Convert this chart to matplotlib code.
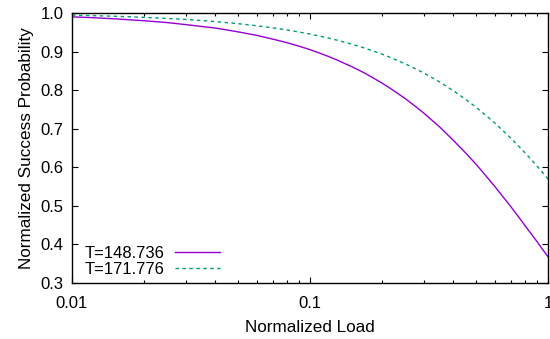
import matplotlib
matplotlib.use("Agg")
import matplotlib.pyplot as plt
from matplotlib.ticker import FixedLocator, NullFormatter, LogLocator

load = [0.01, 0.012, 0.015, 0.02, 0.025, 0.03, 0.04, 0.05, 0.06, 0.07, 0.08, 0.09,
        0.1, 0.11, 0.12, 0.13, 0.15, 0.17, 0.2, 0.22, 0.25, 0.28, 0.3, 0.35,
        0.4, 0.45, 0.5, 0.55, 0.6, 0.65, 0.7, 0.75, 0.8, 0.85, 0.9, 0.95, 1.0]
p_148 = [0.990, 0.9881, 0.985, 0.980, 0.9753, 0.970, 0.961, 0.951, 0.9418, 0.932, 0.9231, 0.9139,
         0.905, 0.8958, 0.8869, 0.878, 0.8607, 0.844, 0.819, 0.8025, 0.779, 0.7558, 0.741, 0.705,
         0.670, 0.6376, 0.607, 0.5769, 0.549, 0.5220, 0.497, 0.4724, 0.449, 0.4274, 0.407, 0.3867, 0.368]
p_171 = [0.9944, 0.9933, 0.9916, 0.9888, 0.9860, 0.9833, 0.9778, 0.9723, 0.9668, 0.9614, 0.9560, 0.9507,
         0.9453, 0.9400, 0.9348, 0.9295, 0.9191, 0.9089, 0.8937, 0.8836, 0.8688, 0.8543, 0.8448, 0.8214,
         0.7986, 0.7764, 0.7550, 0.7340, 0.7138, 0.6938, 0.6748, 0.6559, 0.6378, 0.6200, 0.6029, 0.5861, 0.5699]
labels = ["T=148.736", "T=171.776"]
xticks = [0.01, 0.1, 1]
xticklabels = ["0.01", "0.1", "1"]
yticks = [0.3, 0.4, 0.5, 0.6, 0.7, 0.8, 0.9, 1.0]

plt.rcParams['font.family'] = ['Liberation Sans', 'DejaVu Sans']

fig = plt.figure(figsize=(5.5, 3.39), dpi=100)
ax = fig.add_axes([72/550, (339-283)/339, (548-72)/550, (283-13)/339])

l1, = ax.plot(load, p_148, color='#9400d3', lw=1.0, label=labels[0])
l2, = ax.plot(load, p_171, color='#009e73', lw=1.0, ls=(0, (2.5, 2.5)), label=labels[1])

ax.set_xscale('log')
ax.set_xlim(0.01, 1)
ax.set_ylim(0.3, 1.0)
ax.xaxis.set_major_locator(FixedLocator(xticks))
ax.set_xticklabels(xticklabels)
ax.xaxis.set_minor_locator(LogLocator(base=10, subs=range(2, 10)))
ax.xaxis.set_minor_formatter(NullFormatter())
ax.set_yticks(yticks)
ax.set_yticklabels([f"{v:.1f}" for v in yticks])

ax.tick_params(axis='both', which='major', direction='in', length=4.5, width=0.8,
               top=True, right=True, labelsize=12, colors='black')
ax.tick_params(axis='x', which='major', pad=9)
ax.tick_params(axis='y', which='major', pad=6)
ax.tick_params(axis='both', which='minor', direction='in', length=2.2, width=0.8,
               top=True, right=True)
for s in ax.spines.values():
    s.set_linewidth(1.0)

ax.set_xlabel("Normalized Load", fontsize=12.3, labelpad=7)
ax.set_ylabel("Normalized Success Probability", fontsize=12.3, labelpad=5)

leg = ax.legend(loc='lower left', frameon=False, fontsize=12, markerfirst=False,
                handlelength=2.7, handletextpad=0.6, labelspacing=0.05,
                borderpad=0.0, borderaxespad=0.0,
                bbox_to_anchor=((85-72)/476, (283-277)/270))

fig.savefig("out.png", dpi=100)
